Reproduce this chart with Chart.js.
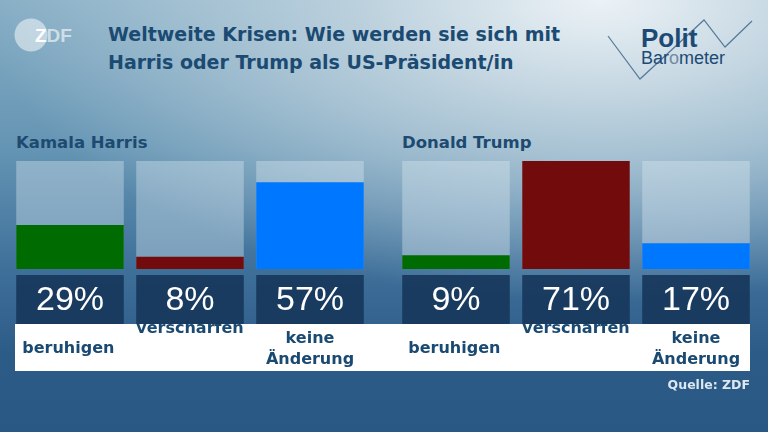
<!DOCTYPE html>
<html>
<head>
<meta charset="utf-8">
<script src="https://cdn.jsdelivr.net/npm/chart.js@4"></script>
<style>
  html, body { margin: 0; padding: 0; }
  body {
    width: 768px; height: 432px; overflow: hidden; position: relative;
    font-family: "DejaVu Sans", sans-serif;
    background:
      radial-gradient(ellipse 80% 70% at 78% 0%, rgba(236,242,246,1) 0%, rgba(196,214,225,0.85) 40%, rgba(140,176,198,0) 100%),
      linear-gradient(180deg, #86aec5 0%, #6494b3 35%, #3f709a 62%, #2c5b87 82%, #2a5884 100%);
  }
  .title { position: absolute; left: 108px; top: 20px; font-weight: bold; font-size: 19px; line-height: 28px; color: #1b4a72; }
  .group { position: absolute; top: 133px; font-weight: bold; font-size: 16.5px; line-height: 20px; color: #1d4a70; }
  .strip { position: absolute; left: 15px; top: 324px; width: 735px; height: 47px; background: #fff; }
  .source { position: absolute; right: 18px; top: 377px; font-weight: bold; font-size: 12.5px; color: #dce7ef; }
  canvas { position: absolute; top: 150px; }
  svg { position: absolute; left: 0; top: 0; }
</style>
</head>
<body>
<svg width="768" height="100">
  <circle cx="31" cy="35" r="16.5" fill="rgba(255,255,255,0.5)"/>
  <text x="35" y="42" font-family="Liberation Sans" font-weight="bold" font-size="19" fill="#fff">Z<tspan fill="rgba(255,255,255,0.6)">DF</tspan></text>
  <polyline points="608,36 640,79 704,20 725,47 752,21" fill="none" stroke="#56799a" stroke-width="1.2"/>
  <text x="641" y="47" font-family="Liberation Sans" font-weight="bold" font-size="26" fill="#1c4a75">Polit</text>
  <text x="641" y="63.5" font-family="Liberation Sans" font-size="18" fill="#1c4a75">Bar<tspan fill="#6f8ba3">o</tspan>meter</text>
</svg>
<div class="title">Weltweite Krisen: Wie werden sie sich mit<br>Harris oder Trump als US-Präsident/in</div>
<div class="group" style="left:16px">Kamala Harris</div>
<div class="group" style="left:402px">Donald Trump</div>
<div class="strip"></div>
<canvas id="harrisChart" width="360" height="230" style="left:10px"></canvas>
<canvas id="trumpChart" width="360" height="230" style="left:396px"></canvas>
<div class="source">Quelle: ZDF</div>

<script>
// --- DATA ---
const categories = ['beruhigen', 'verschärfen', ['keine', 'Änderung']];
const harrisValues = [29, 8, 57];
const trumpValues = [9, 71, 17];
const barColors = ['#006b00', '#720c0c', '#0077ff'];

// the tallest bar fills its whole tile
const yMax = Math.max(...harrisValues, ...trumpValues);

// --- TILE PLUGIN: light track behind bar, dark value box and labels below ---
const tilePlugin = {
    id: 'tiles',
    beforeDatasetsDraw(chart) {
        const ctx = chart.ctx;
        const area = chart.chartArea;
        chart.getDatasetMeta(0).data.forEach(bar => {
            ctx.fillStyle = 'rgba(222,234,241,0.38)';
            ctx.fillRect(bar.x - bar.width / 2, area.top, bar.width, area.bottom - area.top);
        });
    },
    afterDatasetsDraw(chart) {
        const ctx = chart.ctx;
        const area = chart.chartArea;
        const values = chart.data.datasets[0].data;
        const labels = chart.data.labels;
        ctx.save();
        chart.getDatasetMeta(0).data.forEach((bar, i) => {
            const left = bar.x - bar.width / 2;

            // category label (the box is drawn over its top, like the original)
            ctx.fillStyle = '#1a4a72';
            ctx.font = 'bold 16px "DejaVu Sans"';
            ctx.textBaseline = 'alphabetic';
            const label = labels[i];
            if (Array.isArray(label)) {
                ctx.textAlign = 'center';
                ctx.fillText(label[0], bar.x, area.bottom + 74);
                ctx.fillText(label[1], bar.x, area.bottom + 95);
            } else if (i === 0) {
                ctx.textAlign = 'left';
                ctx.fillText(label, left + 6, area.bottom + 84);
            } else {
                ctx.textAlign = 'center';
                ctx.fillText(label, bar.x, area.bottom + 64);
            }

            // value box
            ctx.fillStyle = 'rgba(22,54,90,0.9)';
            ctx.fillRect(left, area.bottom + 6, bar.width, 49);
            ctx.fillStyle = '#ffffff';
            ctx.font = '34px "Liberation Sans"';
            ctx.textAlign = 'center';
            ctx.textBaseline = 'middle';
            ctx.fillText(values[i] + '%', bar.x, area.bottom + 32);
        });
        ctx.restore();
    }
};

function makeChart(id, values) {
    new Chart(document.getElementById(id), {
        type: 'bar',
        data: {
            labels: categories,
            datasets: [{
                data: values,
                backgroundColor: barColors,
                borderWidth: 0,
                categoryPercentage: 1,
                barPercentage: 0.896
            }]
        },
        options: {
            responsive: false,
            animation: false,
            layout: { padding: { top: 11, bottom: 111, left: 0, right: 0 } },
            scales: {
                x: { display: false },
                y: { display: false, min: 0, max: yMax }
            },
            plugins: { legend: { display: false }, tooltip: { enabled: false } }
        },
        plugins: [tilePlugin]
    });
}

makeChart('harrisChart', harrisValues);
makeChart('trumpChart', trumpValues);
</script>
</body>
</html>
